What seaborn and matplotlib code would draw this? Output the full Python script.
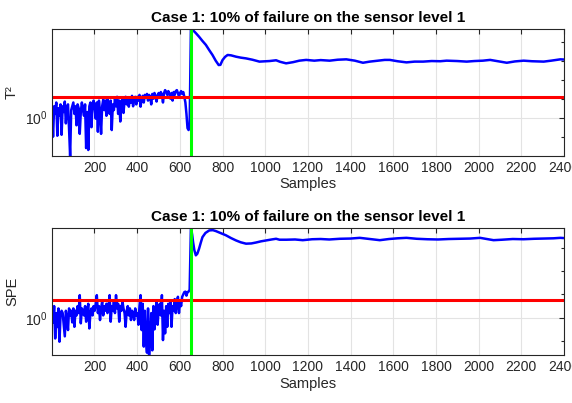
import numpy as np
import pandas as pd
import matplotlib
matplotlib.use("Agg")
import matplotlib.pyplot as plt
import matplotlib.ticker as mticker
import seaborn as sns

# Fault is introduced at this sample
fault_sample = 650

# Control limits (thresholds)
t2_limit = 11.7
spe_limit = 5.75

# Before the fault the statistics are sampled every 5 samples (1, 6, ..., 646)
pre_samples = list(range(1, 647, 5))

# T2 values before the fault, as log10 values
t2_pre_log = [
    0.4, -1.0, 0.6, 0.2, 0.8, -0.95, 0.5, 0.1, 0.7, -0.9,
    0.6, 0.3, 0.85, -0.3, 0.5, 0.7, -0.6, -2.05, 0.4, 0.6,
    0.8, 0.2, 0.6, -0.4, 0.7, 0.5, -0.85, 0.3, 0.8, 0.4,
    0.1, 0.7, -1.6, 0.3, -1.7, 0.6, 0.8, -0.5, 0.7, 0.9,
    0.5, -0.05, 0.8, -0.74, 0.9, 0.3, -0.85, 0.6, 0.95, 0.4,
    0.9, 0.1, 1.05, 0.6, 0.2, 0.9, -0.65, 0.7, 0.4, 1.0,
    0.6, 1.1, 0.2, 0.9, -0.2, 0.8, 1.0, 0.25, 0.9, 1.1,
    0.7, 1.0, 0.58, 1.05, 0.8, 1.15, 0.6, 1.0, 1.1, 0.7,
    1.1, 0.9, 1.2, 0.58, 1.0, 1.15, 0.8, 1.2, 1.05, 1.25,
    0.9, 1.2, 1.1, 0.7, 1.25, 1.0, 1.3, 1.1, 0.85, 1.2,
    1.3, 1.1, 1.35, 1.2, 0.8, 1.3, 1.45, 1.35, 1.2, 1.4,
    1.25, 1.0, 1.3, 0.9, 1.35, 1.2, 1.4, 1.45, 1.3, 1.1,
    1.3, 1.4, 1.25, 1.35, 1.1, 0.8, 0.2, -0.55, -0.65, -0.3,
]

# T2 after the fault (sample, log10 value)
t2_post_samples = [
    652, 660, 675, 690, 705, 722, 738, 753, 768, 782, 790, 800, 812, 824, 840,
    863, 885, 910, 940, 973, 1000, 1020, 1051, 1070, 1098, 1130, 1160, 1192,
    1230, 1260, 1302, 1340, 1380, 1420, 1458, 1490, 1530, 1560, 1584, 1620,
    1662, 1700, 1740, 1780, 1820, 1850, 1900, 1944, 1980, 2020, 2054, 2090,
    2132, 2170, 2211, 2250, 2305, 2340, 2383, 2400,
]
t2_post_log = [
    4.75, 4.62, 4.45, 4.26, 4.05, 3.83, 3.55, 3.3, 3.0, 2.77, 2.78, 3.03, 3.2, 3.3, 3.28,
    3.21, 3.16, 3.12, 3.05, 2.95, 2.97, 2.98, 3.02, 2.94, 2.86, 2.92, 3.0, 3.04,
    3.0, 3.03, 3.0, 3.05, 3.07, 3.0, 2.89, 2.95, 3.0, 3.04, 3.04, 2.97,
    2.91, 2.95, 2.95, 2.98, 2.97, 3.0, 2.98, 2.95, 2.98, 3.0, 3.04, 2.97,
    2.89, 2.96, 3.0, 2.97, 2.95, 3.0, 3.07, 3.06,
]

# SPE values before the fault (log10)
spe_pre_log = [
    0.3, -0.2, 0.5, -0.89, 0.2, -0.4, 0.4, -1.03, 0.1, 0.3,
    0.2, -0.3, -0.8, 0.3, 0.0, -0.53, 0.4, 0.1, 0.3, -0.2,
    0.4, -0.39, 0.3, 0.1, 0.5, 0.2, 0.97, -0.24, 0.4, 0.3,
    0.1, 0.5, -0.17, 0.3, 0.6, -0.46, 0.2, 0.4, 0.1, 0.5,
    0.3, 0.6, 0.97, 0.2, 0.5, -0.1, 0.4, 0.7, 0.1, 0.5,
    0.3, 0.6, 0.2, 0.5, 0.97, -0.17, 0.5, 0.3, 0.7, 0.2,
    0.97, 0.4, 0.6, -0.17, 0.5, 0.3, 0.7, 0.4, 0.2, -0.39,
    0.3, 0.5, 0.1, 0.4, -0.1, 0.3, 0.2, -0.1, 0.4, 0.1,
    0.2, -0.3, 0.5, 0.97, -0.53, 0.6, -1.24, 0.3, -0.9, -1.5,
    0.4, -1.6, -0.8, 0.2, -1.4, 0.5, -0.5, 0.3, 0.7, -0.3,
    0.4, 0.6, 0.1, 0.97, -0.96, 0.3, -0.67, 0.5, -0.39, 0.6,
    0.2, 0.7, -0.39, 0.5, 0.3, 0.8, 0.2, 0.6, 0.9, 0.2,
    0.7, 0.5, 0.9, 1.0, 1.1, 1.12, 0.95, 1.1, 1.12, 1.2,
]

# SPE after the fault (sample, log10 value)
spe_post_samples = [
    652, 658, 662, 668, 675, 682, 690, 698, 706, 720, 738, 755, 769, 790, 816,
    840, 863, 885, 910, 935, 957, 980, 1004, 1030, 1051, 1067, 1100, 1140,
    1176, 1220, 1260, 1300, 1350, 1400, 1443, 1490, 1537, 1580, 1620, 1662,
    1710, 1760, 1810, 1860, 1910, 1960, 2007, 2040, 2070, 2110, 2160, 2210,
    2260, 2310, 2350, 2383, 2400,
]
spe_post_log = [
    3.9, 3.55, 3.25, 2.9, 2.68, 2.75, 2.96, 3.22, 3.46, 3.64, 3.75, 3.76, 3.72, 3.64, 3.54,
    3.42, 3.32, 3.24, 3.18, 3.19, 3.23, 3.28, 3.32, 3.36, 3.39, 3.35, 3.35, 3.36,
    3.33, 3.37, 3.38, 3.36, 3.39, 3.4, 3.43, 3.38, 3.33, 3.38, 3.41, 3.43,
    3.39, 3.37, 3.36, 3.38, 3.39, 3.4, 3.43, 3.38, 3.33, 3.35, 3.38, 3.37,
    3.39, 3.4, 3.41, 3.43, 3.42,
]

# Axis ranges (log10 of the y limits)
t2_ylim_log = (-2.0, 4.65)
spe_ylim_log = (-1.6, 3.84)

title_text = "Case 1: 10% of failure on the sensor level 1"


def build_frame(pre_log, post_samples, post_log):
    # Put the pre- and post-fault parts into one table
    samples = pre_samples + post_samples
    values = 10 ** np.array(pre_log + post_log)
    return pd.DataFrame({"sample": samples, "value": values})


def style_axis(ax, ylabel, ylim_log):
    ax.set_yscale("log")
    ax.set_xlim(1, 2400)
    ax.set_ylim(10 ** ylim_log[0], 10 ** ylim_log[1])
    ax.set_xticks(range(200, 2401, 200))
    # MATLAB-like log axis: major tick every 5 decades, minor every decade
    ax.yaxis.set_major_locator(mticker.FixedLocator([1e-5, 1e0, 1e5]))
    ax.yaxis.set_minor_locator(mticker.FixedLocator([10.0 ** k for k in range(-5, 6)]))
    ax.yaxis.set_major_formatter(mticker.FuncFormatter(
        lambda v, pos: r"$\mathregular{10^{%d}}$" % round(np.log10(v))))
    ax.yaxis.set_minor_formatter(mticker.NullFormatter())
    ax.grid(True, which="major", color="#e3e3e3", linewidth=0.8)
    ax.set_axisbelow(True)
    ax.tick_params(which="both", direction="in", top=True, right=True,
                   colors="#262626", labelsize=10)
    ax.tick_params(which="major", length=3.5, width=0.8)
    ax.tick_params(which="minor", length=2.2, width=0.8)
    for spine in ax.spines.values():
        spine.set_color("#262626")
        spine.set_linewidth(0.8)
    ax.set_title(title_text, fontsize=11, fontweight="bold", pad=5, color="black")
    ax.set_xlabel("Samples", fontsize=10.5, color="#262626", labelpad=2)
    ax.set_ylabel(ylabel, fontsize=10.5, color="#262626", labelpad=4)


def draw_panel(ax, df, limit, ylabel, ylim_log):
    sns.lineplot(data=df, x="sample", y="value", ax=ax, color="#0000ff",
                 linewidth=1.8, estimator=None)
    ax.axhline(limit, color="#ff0000", linewidth=2.2)
    ax.axvline(fault_sample, color="#00ff00", linewidth=2.2)
    style_axis(ax, ylabel, ylim_log)


if __name__ == "__main__":
    sns.set_style("white")
    plt.rcParams["font.family"] = ["Liberation Sans", "DejaVu Sans"]

    fig = plt.figure(figsize=(5.72, 4.03), dpi=100)
    ax_top = fig.add_axes([0.0909, 0.6136, 0.8951, 0.3137])
    ax_bot = fig.add_axes([0.0909, 0.1191, 0.8951, 0.3144])

    t2_df = build_frame(t2_pre_log, t2_post_samples, t2_post_log)
    spe_df = build_frame(spe_pre_log, spe_post_samples, spe_post_log)

    draw_panel(ax_top, t2_df, t2_limit, "T²", t2_ylim_log)
    draw_panel(ax_bot, spe_df, spe_limit, "SPE", spe_ylim_log)

    fig.savefig("out.png", dpi=100)
    plt.close(fig)
